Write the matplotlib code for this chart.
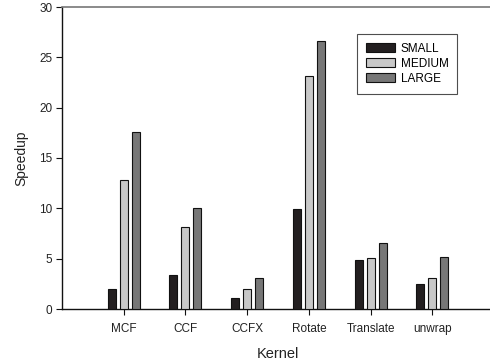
import matplotlib
matplotlib.use("Agg")
import matplotlib.pyplot as plt
import numpy as np

plt.rcParams['font.family'] = ['Liberation Sans', 'DejaVu Sans']

kernels = ["MCF", "CCF", "CCFX", "Rotate", "Translate", "unwrap"]
small = [2.0, 3.4, 1.1, 9.9, 4.85, 2.45]
medium = [12.8, 8.1, 1.95, 23.1, 5.1, 3.1]
large = [17.6, 10.0, 3.1, 26.6, 6.55, 5.15]
series_names = ["SMALL", "MEDIUM", "LARGE"]
series_colors = ["#231f20", "#c8c8c8", "#777777"]

W, H = 490, 360
fig = plt.figure(figsize=(W / 100, H / 100), dpi=100)
ax = fig.add_axes([62 / W, (H - 309) / H, (494 - 62) / W, (309 - 7) / H])

x = np.arange(1, len(kernels) + 1)
width = 0.13
offset = 0.195
for i, (vals, name, col) in enumerate(zip([small, medium, large], series_names, series_colors)):
    ax.bar(x + (i - 1) * offset, vals, width, color=col, edgecolor="#111111",
           linewidth=0.8, label=name, zorder=3)

ax.set_xlim(0, 7)
ax.set_ylim(0, 30)
ax.set_yticks(np.arange(0, 31, 5))
ax.set_xticks(x)
ax.set_xticklabels(kernels)

ax.spines['right'].set_visible(False)
ax.spines['top'].set_color("#777777")
ax.spines['top'].set_linewidth(1.2)
ax.spines['left'].set_color("#111111")
ax.spines['bottom'].set_color("#111111")
ax.spines['left'].set_linewidth(1.0)
ax.spines['bottom'].set_linewidth(1.0)

ax.tick_params(axis='both', direction='out', length=4, width=0.8,
               labelsize=8.5, colors="#111111", labelcolor="#222222", pad=3)
ax.tick_params(axis='x', pad=6)

ax.set_ylabel("Speedup", fontsize=10, color="#222222", labelpad=8)
ax.set_xlabel("Kernel", fontsize=10.5, color="#222222", labelpad=9)

leg = ax.legend(loc='upper left', bbox_to_anchor=((357 - 62) / 432, 1 - (34 - 7) / 302),
                fontsize=8.5, frameon=True, fancybox=False, edgecolor="#222222",
                handlelength=2.45, handleheight=0.85, handletextpad=0.5,
                labelspacing=0.25, borderpad=0.75, borderaxespad=0)
leg.get_frame().set_linewidth(0.8)

fig.savefig("out.png", dpi=100)
